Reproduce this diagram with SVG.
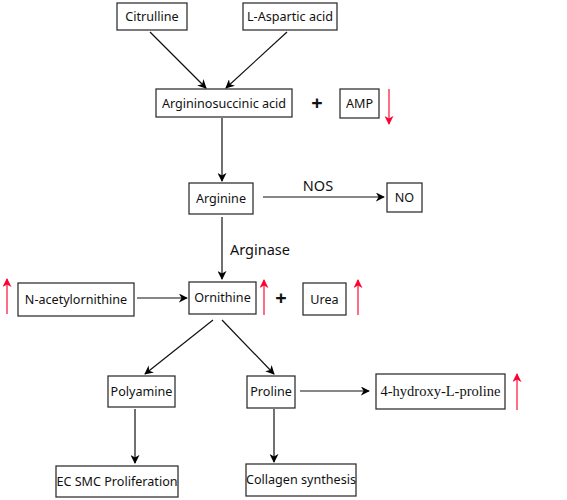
<svg xmlns="http://www.w3.org/2000/svg" width="567" height="500" viewBox="0 0 567 500">
<defs>
<marker id="ah" viewBox="0 0 10 10" refX="9" refY="5" markerWidth="9" markerHeight="9" markerUnits="userSpaceOnUse" orient="auto">
<path d="M0,0 L10,5 L0,10 L3,5 z" fill="#000"/>
</marker>
<marker id="rh" viewBox="0 0 10 10" refX="9" refY="5" markerWidth="9" markerHeight="9" markerUnits="userSpaceOnUse" orient="auto">
<path d="M0,0 L10,5 L0,10 L3,5 z" fill="#ff0033"/>
</marker>
<style>
rect{fill:#fff;stroke:#333;stroke-width:1.3}
text{font-family:"Noto Sans","Open Sans","Liberation Sans",sans-serif;font-size:12.6px;fill:#111;text-anchor:middle}
.c{stroke:#111;stroke-width:1.2;fill:none;marker-end:url(#ah)}
.r{stroke:#ff1f44;stroke-width:1.3;fill:none;marker-end:url(#rh)}
.big{font-size:14.5px}
.plus{font-size:20px;font-weight:bold}
.mono{font-family:"Liberation Serif","DejaVu Serif",serif;font-size:14.5px}
</style>
</defs>
<g id="citrulline"><rect x="117" y="3" width="70" height="27"/><text x="152" y="21">Citrulline</text></g>
<g id="aspartic"><rect x="243" y="3" width="94" height="27"/><text x="290" y="21">L-Aspartic acid</text></g>
<g id="argsucc"><rect x="156" y="89" width="136" height="28"/><text x="224" y="108">Argininosuccinic acid</text></g>
<g id="amp"><rect x="340" y="89" width="39" height="29"/><text x="359.5" y="108">AMP</text></g>
<g id="arginine"><rect x="189" y="183" width="64" height="31"/><text x="221" y="203">Arginine</text></g>
<g id="no"><rect x="387" y="183" width="35" height="29"/><text x="404.5" y="202">NO</text></g>
<g id="nacetyl"><rect x="18" y="283" width="116" height="33"/><text x="76" y="304">N-acetylornithine</text></g>
<g id="ornithine"><rect x="189" y="282" width="67" height="32"/><text x="222.5" y="302">Ornithine</text></g>
<g id="urea"><rect x="303" y="283" width="43" height="32"/><text x="324.5" y="304">Urea</text></g>
<g id="polyamine"><rect x="108" y="376" width="67" height="31"/><text x="141.5" y="396">Polyamine</text></g>
<g id="proline"><rect x="247" y="376" width="48" height="32"/><text x="271" y="396">Proline</text></g>
<g id="hydroxyproline"><rect x="376" y="374" width="129" height="35"/><text class="mono" x="440.5" y="396">4-hydroxy-L-proline</text></g>
<g id="ecsmc"><rect x="56" y="466" width="122" height="31"/><text x="117" y="486">EC SMC Proliferation</text></g>
<g id="collagen"><rect x="246" y="464" width="110" height="32"/><text x="301" y="484">Collagen synthesis</text></g>
<g id="connectors">
<line class="c" x1="150" y1="32" x2="206" y2="88"/>
<line class="c" x1="287" y1="32" x2="226" y2="88"/>
<line class="c" x1="222" y1="118" x2="222" y2="181"/>
<line class="c" x1="263" y1="197" x2="384" y2="197"/>
<line class="c" x1="222" y1="217" x2="222" y2="279"/>
<line class="c" x1="137" y1="298" x2="187" y2="298"/>
<line class="c" x1="213" y1="320" x2="145" y2="374"/>
<line class="c" x1="222" y1="320" x2="274" y2="374"/>
<line class="c" x1="300" y1="391" x2="369" y2="391"/>
<line class="c" x1="135" y1="409" x2="135" y2="463"/>
<line class="c" x1="274" y1="409" x2="274" y2="462"/>
</g>
<g id="labels">
<text class="big" x="318" y="191">NOS</text>
<text class="big" x="260" y="255">Arginase</text>
<text class="plus" x="317" y="110">+</text>
<text class="plus" x="281" y="305">+</text>
</g>
<g id="indicators">
<line class="r" x1="389" y1="89" x2="389" y2="124"/>
<line class="r" x1="7" y1="314" x2="7" y2="279"/>
<line class="r" x1="264" y1="315" x2="264" y2="280"/>
<line class="r" x1="358" y1="315" x2="358" y2="280"/>
<line class="r" x1="517" y1="410" x2="517" y2="374"/>
</g>
</svg>
